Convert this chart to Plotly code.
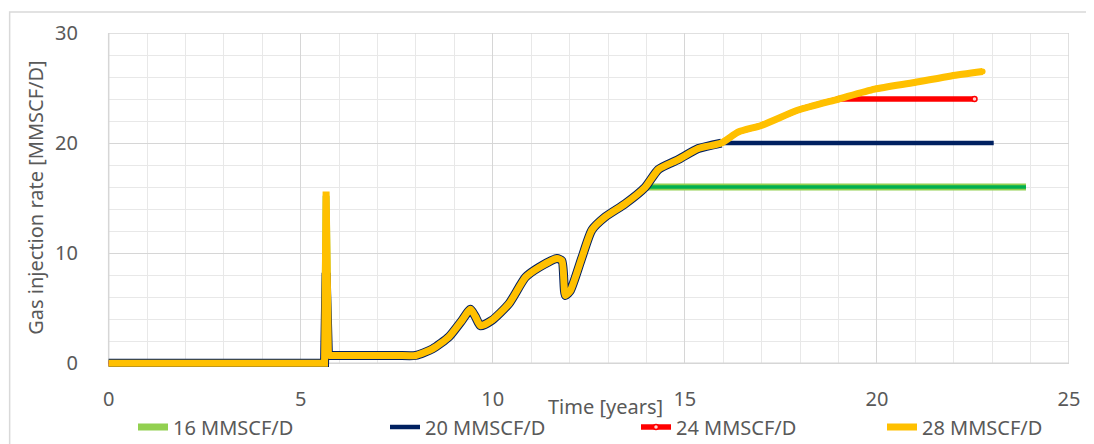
import plotly.graph_objects as go

# shared injection profile (all cases follow it until they hit their cap)
time_pre = [0.0, 5.62]
rate_pre = [0.0, 0.0]
spike_time = 5.66
time_base = [5.72, 6.5, 7.5, 7.99, 8.43, 8.86, 9.2, 9.42, 9.55, 9.68, 9.98,
             10.42, 10.85, 11.2, 11.67, 11.8, 11.89, 12.02, 12.32, 12.58,
             12.93, 13.45, 13.97, 14.31, 14.83, 15.35, 15.95, 16.39, 16.99,
             17.95, 19.0, 19.94, 20.98, 21.93, 22.75]
rate_base = [0.7, 0.7, 0.7, 0.7, 1.3, 2.4, 3.9, 4.9, 4.2, 3.4, 3.9,
             5.4, 7.8, 8.7, 9.5, 9.3, 6.15, 6.6, 9.6, 12.1,
             13.3, 14.5, 16.0, 17.6, 18.5, 19.5, 20.0, 21.0, 21.6,
             23.0, 24.0, 24.9, 25.5, 26.1, 26.5]

# per case
cases = ["16 MMSCF/D", "20 MMSCF/D", "24 MMSCF/D", "28 MMSCF/D"]
caps = [16, 20, 24, 28]
cap_times = [13.97, 15.95, 19.0, None]
end_times = [23.88, 23.04, 22.54, 22.75]
spikes = [15.2, 8.2, 15.3, 15.6]

FONT = "Noto Sans"
GREY = "#595959"

# page body adds an 8px margin, so the figure is drawn 8px smaller
OFF = 8
W, H = 1094 - OFF, 444 - OFF

# plot area in reference pixels (ranges padded a little so thick lines on the axes are not clipped)
X_RANGE = [-0.2, 25]
Y_RANGE = [-0.35, 30]
PX_YR = 960 / 25
PX_UNIT = 330 / 30
LEFT = 109 + X_RANGE[0] * PX_YR
RIGHT = 1069
TOP = 33
BOTTOM = 363 - Y_RANGE[0] * PX_UNIT


def px(x):
    return (x - LEFT) / (RIGHT - LEFT)


def py(y):
    return (BOTTOM - y) / (BOTTOM - TOP)


def case_parts(i):
    spike_t = time_pre + [spike_time, time_base[0]]
    spike_q = rate_pre + [spikes[i], rate_base[0]]
    main_t, main_q = [], []
    for tb, qb in zip(time_base, rate_base):
        if cap_times[i] is not None and tb > cap_times[i]:
            break
        main_t.append(tb)
        main_q.append(qb)
    flat_t, flat_q = [], []
    if cap_times[i] is not None:
        flat_t = [cap_times[i], end_times[i]]
        flat_q = [caps[i], caps[i]]
    return (spike_t, spike_q), (main_t, main_q), (flat_t, flat_q)


fig = go.Figure()


def add_line(x, y, color, width, shape="linear", name=None, legend=None, marker=None):
    fig.add_trace(go.Scatter(
        x=x, y=y, name=name, legend=legend, showlegend=name is not None,
        mode="lines+markers" if marker else "lines",
        line=dict(color=color, width=width, shape=shape, smoothing=0.6),
        marker=marker, cliponaxis=False,
        hoverinfo="x+y" if name else "skip"))


legend_ids = ["legend", "legend2", "legend3", "legend4"]
text_starts = [173, 425, 676, 922]

# 16 MMSCF/D
sp, mn, fl = case_parts(0)
add_line(*sp, "#92D050", 7)
add_line(*mn, "#92D050", 7, "spline", cases[0], legend_ids[0],
         marker=dict(size=6, color="#92D050"))
add_line(*fl, "#92D050", 7)
add_line(*fl, "#00B050", 3.5)

# 20 MMSCF/D
sp, mn, fl = case_parts(1)
add_line(*sp, "#002060", 9)
add_line(*mn, "#002060", 9, "spline")
add_line(*fl, "#002060", 4.5, name=cases[1], legend=legend_ids[1])

# 24 MMSCF/D
sp, mn, fl = case_parts(2)
add_line(*sp, "#FF0000", 5.5)
add_line(*mn, "#FF0000", 5.5, "spline")
add_line(*fl, "#FF0000", 5.5, name=cases[2], legend=legend_ids[2],
         marker=dict(size=5, color="#FFD0D0", line=dict(color="#FF0000", width=1.5)))

# 28 MMSCF/D
sp, mn, fl = case_parts(3)
add_line(*sp, "#FFC000", 7)
add_line(*mn, "#FFC000", 7, "spline", cases[3], legend_ids[3],
         marker=dict(size=6, color="#FFC000"))

axis_common = dict(automargin=False, showgrid=True, gridcolor="#D6D6D6", gridwidth=1.2,
                   showline=False, zeroline=False, ticks="outside",
                   tickcolor="rgba(0,0,0,0)",
                   tickfont=dict(family=FONT, size=20, color=GREY))
# tick labels: x labels centred ~38px under the axis, y labels end ~29px left of it
fig.update_xaxes(range=X_RANGE, dtick=5, tick0=0, ticklen=14,
                 minor=dict(dtick=1, showgrid=True, gridcolor="#E8E8E8", gridwidth=1),
                 **axis_common)
fig.update_yaxes(range=Y_RANGE, dtick=10, tick0=0, ticklen=18,
                 minor=dict(dtick=2, showgrid=True, gridcolor="#E8E8E8", gridwidth=1),
                 **axis_common)

legends = {}
for lg, ts in zip(legend_ids, text_starts):
    legends[lg] = dict(orientation="h", xref="container", yref="container",
                       x=(ts - 40 - OFF) / W, xanchor="left",
                       y=1 - (427 - OFF) / H, yanchor="middle",
                       font=dict(family=FONT, size=20, color=GREY),
                       bgcolor="rgba(0,0,0,0)")

shapes = [
    # chart area border
    dict(type="rect", xref="paper", yref="paper", layer="below",
         x0=px(10), x1=px(1110), y0=py(460), y1=py(12),
         line=dict(color="#D9D9D9", width=1.5)),
    # hide grid overflow in the padding strips
    dict(type="rect", xref="x", yref="y", layer="between",
         x0=X_RANGE[0], x1=0, y0=Y_RANGE[0], y1=30,
         fillcolor="white", line=dict(width=0)),
    dict(type="rect", xref="x", yref="y", layer="between",
         x0=X_RANGE[0], x1=25, y0=Y_RANGE[0], y1=0,
         fillcolor="white", line=dict(width=0)),
    # plot area border
    dict(type="rect", xref="x", yref="y", layer="between",
         x0=0, x1=25, y0=0, y1=30,
         line=dict(color="#D6D6D6", width=1.5)),
]

fig.update_layout(
    width=W, height=H,
    margin=dict(l=LEFT - OFF, r=1094 - RIGHT, t=TOP - OFF, b=444 - BOTTOM),
    plot_bgcolor="white", paper_bgcolor="white",
    font=dict(family=FONT, size=20, color=GREY),
    showlegend=True,
    annotations=[
        dict(text="Time [years]", xref="paper", yref="paper",
             x=px(606), y=py(406),
             xanchor="center", yanchor="middle", showarrow=False,
             font=dict(family=FONT, size=20, color=GREY)),
        dict(text="Gas injection rate [MMSCF/D]", xref="paper", yref="paper",
             x=px(35), y=py(198), textangle=-90,
             xanchor="center", yanchor="middle", showarrow=False,
             font=dict(family=FONT, size=20, color=GREY)),
    ],
    shapes=shapes,
    **legends,
)

fig.write_html("out.html")
